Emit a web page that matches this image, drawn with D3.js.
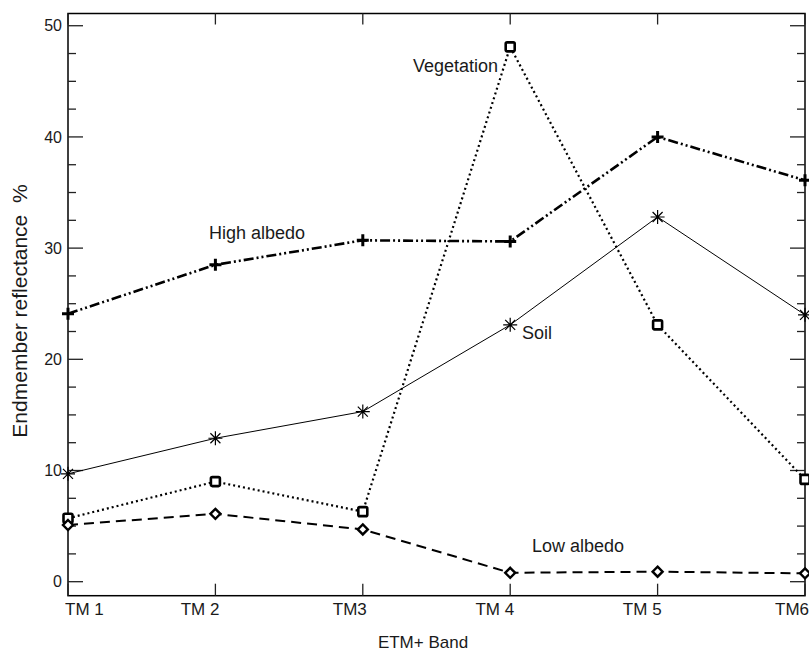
<!DOCTYPE html>
<html><head><meta charset="utf-8">
<script src="https://cdn.jsdelivr.net/npm/d3@7"></script>
<style>body{margin:0;background:#fff}svg{display:block}text{font-family:"Liberation Sans",Arial,sans-serif;fill:#1a1a1a}</style>
</head><body><svg id="c" width="809" height="651"></svg>
<script>
const bands = ["TM 1","TM 2","TM3","TM 4","TM 5","TM6"];
const yTicks = [0,10,20,30,40,50];
const highAlbedo = [24.1, 28.5, 30.7, 30.6, 40.0, 36.1];
const soil = [9.7, 12.9, 15.3, 23.1, 32.8, 24.0];
const vegetation = [5.7, 9.0, 6.3, 48.1, 23.1, 9.2];
const lowAlbedo = [5.1, 6.1, 4.7, 0.8, 0.9, 0.75];

const svg = d3.select("#c");
const L=68, R=805, T=13.5, B=595.7;
const x = d3.scalePoint().domain(bands).range([L,R]);
const y = d3.scaleLinear().domain([-1.26,51.1]).range([B,T]);

svg.append("rect").attr("x",L).attr("y",T).attr("width",R-L).attr("height",B-T)
  .attr("fill","none").attr("stroke","#000").attr("stroke-width",1.5);

const minor = d3.range(0,50.1,2.5).filter(v=>v%10!==0);
const g = svg.append("g").attr("stroke","#222").attr("stroke-width",1.3);
yTicks.forEach(v=>{
  g.append("line").attr("x1",L).attr("x2",L+15).attr("y1",y(v)).attr("y2",y(v));
  g.append("line").attr("x1",R).attr("x2",R-15).attr("y1",y(v)).attr("y2",y(v));
});
minor.forEach(v=>{
  g.append("line").attr("x1",L).attr("x2",L+8).attr("y1",y(v)).attr("y2",y(v));
  g.append("line").attr("x1",R).attr("x2",R-8).attr("y1",y(v)).attr("y2",y(v));
});
bands.forEach(b=>{
  g.append("line").attr("x1",x(b)).attr("x2",x(b)).attr("y1",B).attr("y2",B-12);
  g.append("line").attr("x1",x(b)).attr("x2",x(b)).attr("y1",T).attr("y2",T+11);
});
svg.selectAll(".yl").data(yTicks).join("text").attr("class","yl")
  .attr("x",62).attr("y",d=>y(d)).attr("dy","0.36em").attr("text-anchor","end")
  .attr("font-size",16).text(d=>d);
svg.selectAll(".xl").data(bands).join("text").attr("class","xl")
  .attr("x",(d,i)=>i===0?x(d)-3:x(d)+4).attr("y",615)
  .attr("text-anchor",(d,i)=>i===0?"start":"end")
  .attr("font-size",17).text(d=>d);
svg.append("text").attr("x",423).attr("y",648).attr("text-anchor","middle")
  .attr("font-size",17).text("ETM+ Band");
svg.append("text").attr("transform","translate(27,311) rotate(-90)")
  .attr("text-anchor","middle").attr("font-size",21)
  .style("white-space","pre").text("Endmember reflectance  %");

const line = d3.line().x((d,i)=>x(bands[i])).y(d=>y(d));
const series = [
  {v:highAlbedo, dash:"10,3,2,3,2,3", w:2.6, m:"plus"},
  {v:soil, dash:null, w:1, m:"ast"},
  {v:vegetation, dash:"2,3", w:2.2, m:"square"},
  {v:lowAlbedo, dash:"10,6", w:2, m:"diamond"}
];
series.forEach(s=>{
  const p = svg.append("path").datum(s.v).attr("d",line).attr("fill","none")
    .attr("stroke","#000").attr("stroke-width",s.w);
  if(s.dash) p.attr("stroke-dasharray",s.dash);
  s.v.forEach((v,i)=>{
    const cx=x(bands[i]), cy=y(v);
    const mg = svg.append("g").attr("transform",`translate(${cx},${cy})`);
    if(s.m==="plus"){
      mg.append("path").attr("d","M-6,0H6M0,-6V6").attr("stroke","#000").attr("stroke-width",3);
    } else if(s.m==="ast"){
      mg.append("path").attr("d","M-7,0H7M0,-7V7M-5,-5L5,5M-5,5L5,-5").attr("stroke","#000").attr("stroke-width",1.2);
    } else if(s.m==="square"){
      mg.append("rect").attr("x",-4.5).attr("y",-4.5).attr("width",9).attr("height",9).attr("rx",1.5)
        .attr("fill","#fff").attr("stroke","#000").attr("stroke-width",2.6);
    } else {
      mg.append("path").attr("d","M0,-5L5,0L0,5L-5,0Z").attr("fill","#fff").attr("stroke","#000").attr("stroke-width",2.4);
    }
  });
});

const labels = [
  {t:"Vegetation", x:413, y:72},
  {t:"High albedo", x:209, y:239},
  {t:"Soil", x:522, y:339},
  {t:"Low albedo", x:532, y:552}
];
svg.selectAll(".ann").data(labels).join("text").attr("class","ann")
  .attr("x",d=>d.x).attr("y",d=>d.y).attr("font-size",18).text(d=>d.t);
</script></body></html>
